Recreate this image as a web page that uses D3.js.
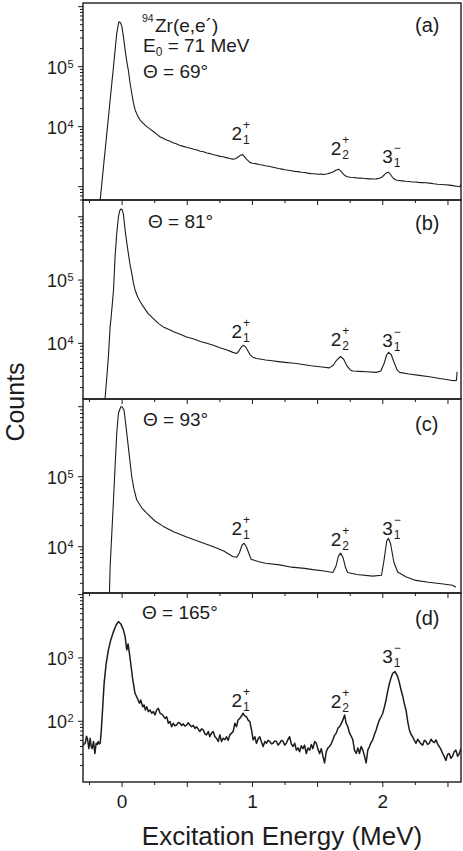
<!DOCTYPE html>
<html>
<head>
<meta charset="utf-8">
<script src="https://cdn.jsdelivr.net/npm/d3@7"></script>
<style>
  body { margin: 0; background: #fff; }
  text { font-family: "Liberation Sans", Arial, sans-serif; fill: #1c1c1c; }
</style>
</head>
<body>
<svg id="chart" width="463" height="851"></svg>
<script>
// energy (MeV) range shared by all four panels
var xDomain = [-0.3, 2.6];
var xTickLabels = [0, 1, 2];

// count ranges of the four log axes, and which decades get a label
var yDomainA = [600, 1.15e6];
var yDomainB = [1320, 1.84e6];
var yDomainC = [2180, 1.29e6];
var yDomainD = [11, 10600];
var yLabelExpA = [4, 5];
var yLabelExpB = [4, 5];
var yLabelExpC = [4, 5];
var yLabelExpD = [2, 3];

var angleLabels = ["69°", "81°", "93°", "165°"];
var panelLetters = ["(a)", "(b)", "(c)", "(d)"];

// excited states marked in every panel
var stateNames = ["2", "2", "3"];
var stateSubs = ["1", "2", "1"];
var stateSups = ["+", "+", "\u2212"];
var stateEnergy = [0.84, 1.60, 1.995];
var stateCountsA = [6000, 3400, 2500];
var stateCountsB = [12000, 9100, 8700];
var stateCountsC = [14700, 10300, 14700];
var stateCountsD = [168, 162, 834];

// spectra: [excitation energy (MeV), counts]
var spectrumA = [
  [-0.200, 300], [-0.168, 600], [-0.143, 2140], [-0.117, 7800], [-0.092, 27500],
  [-0.066, 100000], [-0.041, 363000], [-0.025, 560000], [-0.012, 540000], [-0.002, 468000],
  [0.010, 320000], [0.023, 190000], [0.035, 125000], [0.048, 87000], [0.060, 55000],
  [0.074, 36000], [0.087, 25000], [0.100, 19000], [0.120, 15000], [0.138, 12900],
  [0.160, 11500], [0.189, 10000], [0.215, 9100], [0.240, 8300], [0.265, 7500],
  [0.290, 6800], [0.315, 6400], [0.340, 6000], [0.365, 5750], [0.390, 5400],
  [0.415, 5200], [0.440, 4900], [0.470, 4700], [0.500, 4500], [0.525, 4380],
  [0.550, 4200], [0.575, 4080], [0.600, 3900], [0.625, 3820], [0.650, 3650],
  [0.675, 3560], [0.700, 3400], [0.725, 3330], [0.750, 3200], [0.775, 3150],
  [0.800, 3050], [0.825, 2950], [0.850, 2880], [0.870, 2920], [0.890, 3120],
  [0.910, 3350], [0.925, 3420], [0.940, 3150], [0.960, 2800], [0.980, 2540],
  [1.000, 2460], [1.025, 2420], [1.050, 2340], [1.075, 2300], [1.100, 2230],
  [1.125, 2190], [1.150, 2130], [1.175, 2070], [1.200, 2010], [1.225, 1960],
  [1.250, 1910], [1.275, 1880], [1.300, 1840], [1.325, 1800], [1.350, 1780],
  [1.375, 1740], [1.400, 1720], [1.425, 1680], [1.450, 1650], [1.475, 1640],
  [1.500, 1610], [1.525, 1620], [1.550, 1600], [1.575, 1640], [1.600, 1700],
  [1.620, 1780], [1.640, 1880], [1.660, 1960], [1.680, 1800], [1.700, 1600],
  [1.720, 1480], [1.750, 1440], [1.775, 1420], [1.800, 1400], [1.825, 1390],
  [1.850, 1380], [1.875, 1360], [1.900, 1350], [1.925, 1340], [1.950, 1350],
  [1.975, 1380], [1.995, 1450], [2.015, 1600], [2.030, 1720], [2.045, 1740],
  [2.060, 1580], [2.080, 1380], [2.100, 1290], [2.125, 1270], [2.150, 1250],
  [2.175, 1230], [2.200, 1220], [2.225, 1200], [2.250, 1195], [2.275, 1180],
  [2.300, 1170], [2.330, 1160], [2.360, 1145], [2.390, 1120], [2.420, 1100],
  [2.450, 1090], [2.480, 1080], [2.510, 1060], [2.540, 1040], [2.565, 1020],
  [2.590, 1000], [2.600, 1100]
];

var spectrumB = [
  [-0.145, 700], [-0.131, 1320], [-0.117, 2950], [-0.105, 6200], [-0.092, 18200],
  [-0.084, 26300], [-0.075, 42000], [-0.066, 69000], [-0.054, 234000], [-0.041, 550000],
  [-0.028, 1000000], [-0.018, 1250000], [-0.010, 1320000], [0.000, 1300000], [0.010, 1100000],
  [0.023, 617000], [0.035, 400000], [0.048, 263000], [0.060, 180000], [0.074, 129000],
  [0.087, 90000], [0.100, 69000], [0.120, 54000], [0.138, 45700], [0.163, 38000],
  [0.200, 29500], [0.240, 24500], [0.280, 20500], [0.316, 18200], [0.360, 16600],
  [0.400, 15100], [0.450, 13800], [0.495, 12600], [0.550, 11700], [0.600, 10700],
  [0.650, 10000], [0.700, 9300], [0.750, 8500], [0.800, 7900], [0.850, 7200],
  [0.878, 6900], [0.895, 7500], [0.910, 8500], [0.928, 9300], [0.945, 8900],
  [0.960, 7900], [0.980, 6700], [1.000, 6100], [1.030, 5750], [1.070, 5600],
  [1.100, 5450], [1.150, 5300], [1.200, 5150], [1.250, 5000], [1.300, 4880],
  [1.337, 4800], [1.400, 4580], [1.450, 4420], [1.500, 4300], [1.550, 4180],
  [1.590, 4100], [1.620, 4500], [1.645, 5400], [1.676, 6200], [1.700, 5600],
  [1.725, 4400], [1.750, 3800], [1.770, 3650], [1.820, 3600], [1.880, 3550],
  [1.950, 3480], [1.985, 3650], [2.010, 4800], [2.030, 6600], [2.045, 7200],
  [2.065, 6600], [2.090, 4800], [2.110, 3800], [2.130, 3480], [2.200, 3270],
  [2.280, 3120], [2.357, 2960], [2.450, 2760], [2.535, 2580], [2.565, 2600],
  [2.570, 3550]
];

var spectrumC = [
  [-0.110, 600], [-0.097, 2190], [-0.092, 5100], [-0.079, 15500], [-0.066, 46800],
  [-0.054, 138000], [-0.041, 417000], [-0.028, 813000], [-0.010, 1000000], [0.000, 1000000],
  [0.015, 890000], [0.036, 417000], [0.056, 195000], [0.074, 100000], [0.090, 68000],
  [0.112, 46800], [0.150, 36000], [0.189, 30200], [0.250, 23500], [0.316, 19500],
  [0.400, 16200], [0.495, 13800], [0.600, 11700], [0.700, 10000], [0.780, 8700],
  [0.852, 7200], [0.880, 7100], [0.900, 8200], [0.920, 10500], [0.936, 11200],
  [0.955, 9800], [0.975, 7800], [0.990, 6600], [1.050, 6100], [1.100, 5800],
  [1.209, 5500], [1.300, 5100], [1.400, 4900], [1.464, 4700], [1.550, 4500],
  [1.617, 4270], [1.640, 5200], [1.660, 7400], [1.676, 8100], [1.695, 7000],
  [1.715, 5000], [1.730, 4270], [1.800, 4000], [1.923, 3800], [1.990, 3900],
  [2.010, 6500], [2.030, 12000], [2.043, 13200], [2.060, 11000], [2.085, 6000],
  [2.114, 4360], [2.180, 3700], [2.254, 3300], [2.350, 3100], [2.450, 2950],
  [2.535, 2820], [2.560, 2630]
];

var spectrumD = [
  [-0.300, 42], [-0.283, 45], [-0.273, 58], [-0.265, 52], [-0.255, 37],
  [-0.245, 54], [-0.237, 40], [-0.230, 37], [-0.219, 48], [-0.209, 31],
  [-0.199, 45], [-0.190, 43], [-0.184, 48], [-0.175, 44], [-0.168, 45],
  [-0.161, 65], [-0.150, 151], [-0.138, 397], [-0.122, 824], [-0.105, 1337],
  [-0.087, 1925], [-0.066, 2605], [-0.046, 3317], [-0.028, 3750], [-0.010, 3445],
  [0.010, 2767], [0.023, 2173], [0.036, 1337], [0.046, 1663], [0.056, 1185],
  [0.066, 824], [0.082, 449], [0.099, 277], [0.117, 231], [0.133, 192],
  [0.143, 217], [0.158, 170], [0.168, 181], [0.179, 151], [0.189, 170],
  [0.201, 142], [0.214, 151], [0.227, 134], [0.240, 142], [0.252, 126],
  [0.265, 151], [0.278, 160], [0.291, 134], [0.311, 126], [0.329, 111],
  [0.342, 118], [0.355, 93], [0.367, 99], [0.380, 82], [0.393, 93],
  [0.405, 85], [0.418, 87], [0.431, 96], [0.444, 93], [0.457, 86],
  [0.469, 91], [0.482, 84], [0.495, 87], [0.508, 95], [0.520, 87],
  [0.533, 82], [0.546, 86], [0.559, 77], [0.571, 82], [0.584, 75],
  [0.597, 69], [0.610, 76], [0.622, 73], [0.635, 64], [0.648, 61],
  [0.661, 69], [0.673, 57], [0.686, 65], [0.699, 69], [0.712, 57],
  [0.724, 54], [0.737, 48], [0.750, 61], [0.763, 48], [0.775, 54],
  [0.788, 51], [0.801, 57], [0.814, 50], [0.826, 61], [0.840, 65],
  [0.852, 69], [0.865, 93], [0.877, 82], [0.890, 105], [0.903, 111],
  [0.915, 120], [0.928, 134], [0.941, 122], [0.954, 118], [0.967, 104],
  [0.980, 99], [0.993, 73], [1.005, 51], [1.018, 57], [1.031, 45],
  [1.044, 53], [1.056, 57], [1.069, 47], [1.082, 40], [1.095, 48],
  [1.107, 45], [1.120, 50], [1.133, 48], [1.146, 44], [1.158, 45],
  [1.171, 49], [1.184, 48], [1.197, 42], [1.209, 45], [1.222, 50],
  [1.235, 48], [1.248, 42], [1.260, 45], [1.273, 52], [1.285, 57],
  [1.298, 44], [1.311, 40], [1.324, 45], [1.337, 35], [1.350, 38],
  [1.362, 33], [1.375, 41], [1.388, 37], [1.400, 42], [1.413, 31],
  [1.426, 38], [1.439, 35], [1.452, 43], [1.464, 37], [1.477, 48],
  [1.490, 45], [1.503, 36], [1.515, 31], [1.528, 37], [1.541, 28],
  [1.553, 22], [1.566, 33], [1.579, 38], [1.591, 40], [1.604, 44],
  [1.617, 51], [1.630, 60], [1.643, 65], [1.656, 78], [1.668, 82],
  [1.681, 92], [1.694, 105], [1.707, 126], [1.719, 93], [1.732, 82],
  [1.745, 65], [1.758, 58], [1.770, 51], [1.783, 35], [1.796, 31],
  [1.809, 38], [1.821, 31], [1.834, 40], [1.847, 35], [1.860, 28],
  [1.872, 22], [1.885, 35], [1.898, 40], [1.910, 46], [1.923, 51],
  [1.936, 62], [1.949, 73], [1.962, 90], [1.974, 105], [1.987, 118],
  [2.000, 134], [2.013, 170], [2.025, 217], [2.038, 300], [2.051, 397],
  [2.064, 490], [2.076, 573], [2.094, 608], [2.114, 507], [2.127, 410],
  [2.140, 312], [2.153, 250], [2.165, 190], [2.178, 151], [2.191, 100],
  [2.204, 73], [2.217, 62], [2.229, 57], [2.242, 50], [2.255, 45],
  [2.268, 52], [2.280, 48], [2.293, 44], [2.306, 42], [2.319, 50],
  [2.331, 48], [2.344, 43], [2.357, 45], [2.370, 52], [2.382, 48],
  [2.395, 46], [2.408, 51], [2.420, 44], [2.433, 40], [2.446, 36],
  [2.459, 31], [2.471, 28], [2.484, 24], [2.497, 30], [2.510, 31],
  [2.522, 26], [2.535, 28], [2.548, 33], [2.561, 35], [2.574, 28],
  [2.587, 31], [2.595, 35], [2.600, 37]
];

// layout
var left = 83, right = 461;
var ink = "#1c1c1c";
var panels = [
  { top: 3,   bottom: 200, data: spectrumA, dom: yDomainA, labExp: yLabelExpA, states: stateCountsA, angX: 143, angDy: 74.7, letDy: 29,   lw: 1.1 },
  { top: 200, bottom: 399, data: spectrumB, dom: yDomainB, labExp: yLabelExpB, states: stateCountsB, angX: 148, angDy: 27.7, letDy: 30,   lw: 1.1 },
  { top: 399, bottom: 593, data: spectrumC, dom: yDomainC, labExp: yLabelExpC, states: stateCountsC, angX: 143, angDy: 27,   letDy: 31.7, lw: 1.1 },
  { top: 593, bottom: 782, data: spectrumD, dom: yDomainD, labExp: yLabelExpD, states: stateCountsD, angX: 142, angDy: 26.3, letDy: 32,   lw: 1.5 }
];

var svg = d3.select("#chart");
var x = d3.scaleLinear().domain(xDomain).range([left, right]);

// x tick values every 0.25 MeV
var xTicks = d3.range(-0.25, 2.51, 0.25).map(function(v) { return Math.round(v * 100) / 100; });

panels.forEach(function(p, i) {
  var y = d3.scaleLog().domain(p.dom).range([p.bottom, p.top]);
  var g = svg.append("g");

  g.append("clipPath").attr("id", "clip" + i)
    .append("rect")
    .attr("x", left).attr("y", p.top)
    .attr("width", right - left).attr("height", p.bottom - p.top);

  // spectrum
  var line = d3.line()
    .x(function(d) { return x(d[0]); })
    .y(function(d) { return y(d[1]); });
  g.append("path")
    .datum(p.data)
    .attr("clip-path", "url(#clip" + i + ")")
    .attr("d", line)
    .attr("fill", "none")
    .attr("stroke", ink)
    .attr("stroke-width", p.lw)
    .attr("stroke-linejoin", "round");

  // log ticks on the left (outward)
  var lo = Math.floor(Math.log10(p.dom[0])), hi = Math.ceil(Math.log10(p.dom[1]));
  var yTicks = [];
  for (var k = lo; k <= hi; k++) {
    for (var m = 1; m <= 9; m++) {
      var v = m * Math.pow(10, k);
      if (v >= p.dom[0] && v <= p.dom[1]) yTicks.push({ v: v, major: m === 1 });
    }
  }
  g.selectAll(".ytick").data(yTicks).enter().append("line")
    .attr("x1", function(d) { return left - (d.major ? 5 : 3); })
    .attr("x2", left)
    .attr("y1", function(d) { return y(d.v); })
    .attr("y2", function(d) { return y(d.v); })
    .attr("stroke", ink).attr("stroke-width", 1);

  p.labExp.forEach(function(e) {
    var yy = y(Math.pow(10, e));
    g.append("text").attr("x", 67).attr("y", yy + 7)
      .attr("text-anchor", "end").attr("font-size", 18).text("10");
    g.append("text").attr("x", 67.5).attr("y", yy + 1)
      .attr("font-size", 11).text(e);
  });

  // x ticks on the bottom (outward)
  g.selectAll(".xtick").data(xTicks).enter().append("line")
    .attr("x1", function(d) { return x(d); })
    .attr("x2", function(d) { return x(d); })
    .attr("y1", p.bottom)
    .attr("y2", function(d) { return p.bottom + (Math.abs(d * 2 - Math.round(d * 2)) < 1e-6 ? 5 : 3); })
    .attr("stroke", ink).attr("stroke-width", 1);

  // frame
  g.append("rect")
    .attr("x", left).attr("y", p.top)
    .attr("width", right - left).attr("height", p.bottom - p.top)
    .attr("fill", "none").attr("stroke", ink).attr("stroke-width", 1.4);

  // state labels
  stateNames.forEach(function(s, j) {
    var lx = x(stateEnergy[j]), ly = y(p.states[j]);
    g.append("text").attr("x", lx).attr("y", ly).attr("font-size", 19).text(s);
    g.append("text").attr("x", lx + 11.5).attr("y", ly + 4).attr("font-size", 12).text(stateSubs[j]);
    g.append("text").attr("x", lx + 11.5).attr("y", ly - 11).attr("font-size", 12).text(stateSups[j]);
  });

  // angle and panel letter
  g.append("text").attr("x", p.angX).attr("y", p.top + p.angDy)
    .attr("font-size", 19).text("\u0398 = " + angleLabels[i]);
  g.append("text").attr("x", 415).attr("y", p.top + p.letDy)
    .attr("font-size", 20).text(panelLetters[i]);

  if (i === 0) {
    g.append("text").attr("x", 142).attr("y", 22).attr("font-size", 10.5).text("94");
    g.append("text").attr("x", 155).attr("y", 32).attr("font-size", 19).text("Zr(e,e\u00B4)");
    var t = g.append("text").attr("x", 143).attr("y", 52).attr("font-size", 19);
    t.append("tspan").text("E");
    t.append("tspan").attr("font-size", 12).attr("dy", 4).text("0");
    t.append("tspan").attr("dy", -4).text(" = 71 MeV");
  }

  if (i === panels.length - 1) {
    xTickLabels.forEach(function(v) {
      g.append("text").attr("x", x(v)).attr("y", p.bottom + 26)
        .attr("text-anchor", "middle").attr("font-size", 19).text(v);
    });
  }
});

// axis titles
svg.append("text")
  .attr("x", 282).attr("y", 845)
  .attr("text-anchor", "middle").attr("font-size", 26)
  .text("Excitation Energy (MeV)");
svg.append("text")
  .attr("transform", "translate(24,402) rotate(-90)")
  .attr("text-anchor", "middle").attr("font-size", 25)
  .text("Counts");
</script>
</body>
</html>
